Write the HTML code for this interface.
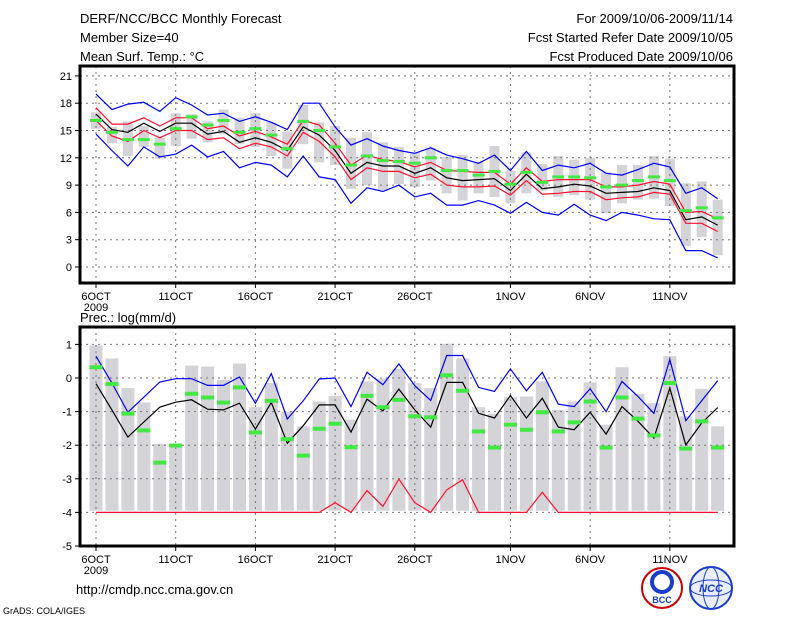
<!DOCTYPE html>
<html><head><meta charset="utf-8">
<style>
html,body{margin:0;padding:0;background:#fff;}
body{width:800px;height:618px;overflow:hidden;position:relative;font-family:"Liberation Sans",sans-serif;}
svg text{font-family:"Liberation Sans",sans-serif;}
</style></head>
<body>
<svg id="chart" width="800" height="618" xmlns="http://www.w3.org/2000/svg">
 <g id="hdr" font-size="13" fill="#000">
  <text x="80" y="23">DERF/NCC/BCC Monthly Forecast</text>
  <text x="80" y="42">Member Size=40</text>
  <text x="80" y="61">Mean Surf. Temp.: °C</text>
  <text x="733" y="23" text-anchor="end">For 2009/10/06-2009/11/14</text>
  <text x="733" y="42" text-anchor="end">Fcst Started Refer Date 2009/10/05</text>
  <text x="733" y="61" text-anchor="end">Fcst Produced Date 2009/10/06</text>
  <text x="80" y="322">Prec.: log(mm/d)</text>
  <text x="76" y="594">http://cmdp.ncc.cma.gov.cn</text>
  <text x="3" y="614" font-size="9">GrADS: COLA/IGES</text>
 </g>
 <g>
  <circle cx="662" cy="588" r="20" fill="#fff" stroke="#c00" stroke-width="2"/>
  <circle cx="662" cy="582" r="10" fill="none" stroke="#1a3cc8" stroke-width="4"/>
  <text x="662" y="603" font-size="9" text-anchor="middle" fill="#1a3cc8" font-weight="bold">BCC</text>
 </g>
 <g>
  <circle cx="711" cy="588" r="21" fill="#e8eeff" stroke="#1a3cc8" stroke-width="2"/>
  <ellipse cx="711" cy="588" rx="21" ry="8" fill="none" stroke="#1a3cc8" stroke-width="1"/>
  <ellipse cx="711" cy="588" rx="8" ry="21" fill="none" stroke="#1a3cc8" stroke-width="1"/>
  <text x="711" y="592" font-size="11" text-anchor="middle" fill="#1a3cc8" font-weight="bold" font-style="italic">NCC</text>
 </g>
</svg>
<script>
// ---- data (day index 0 = 6 Oct 2009 ... 39 = 14 Nov 2009) ----
const dateLabels = ["6OCT","11OCT","16OCT","21OCT","26OCT","1NOV","6NOV","11NOV"];
const dateLabelIdx = [0,5,10,15,20,26,31,36];
const tTicks = [0,3,6,9,12,15,18,21];
const pTicks = [1,0,-1,-2,-3,-4,-5];

const tMax = [19.0,17.3,17.9,18.1,17.1,18.6,17.8,16.7,16.9,16.0,16.5,15.9,15.1,18.0,18.0,15.4,13.4,14.1,13.3,12.8,12.5,13.1,12.3,11.9,11.4,12.3,10.6,12.7,10.6,11.2,10.9,11.4,10.3,10.1,10.7,11.4,11.0,8.1,8.7,7.5];
const tMin = [14.6,12.8,11.1,13.2,12.1,12.4,13.4,12.1,12.7,10.9,11.5,11.2,9.9,12.2,9.9,9.6,7.0,8.7,8.3,9.0,7.7,8.1,6.8,6.8,7.3,6.8,5.9,7.1,6.0,5.7,6.9,5.7,5.1,6.0,5.7,5.3,5.2,1.8,1.8,1.0];
const tMean = [16.8,15.1,14.8,15.8,14.9,15.8,15.8,14.6,14.9,13.7,14.2,13.7,12.8,15.4,14.5,12.8,10.3,11.5,11.1,11.1,10.3,10.9,9.8,9.5,9.6,9.7,8.4,10.2,8.6,8.8,9.1,8.9,8.1,8.2,8.3,8.7,8.4,5.2,5.5,4.6];
const tUp = [17.5,15.7,15.7,16.4,15.5,16.4,16.4,15.2,15.5,14.4,14.9,14.3,13.5,16.1,15.6,13.6,11.2,12.3,11.8,11.6,11.0,11.5,10.6,10.5,10.4,10.4,9.1,10.9,9.4,9.6,9.6,9.6,8.8,8.8,9.0,9.4,9.1,6.0,6.1,5.3];
const tLo = [16.1,14.4,13.8,15.0,14.2,15.0,15.0,14.0,14.2,13.0,13.6,13.2,12.2,14.8,13.8,12.1,9.6,10.9,10.5,10.5,9.8,10.2,9.0,8.8,8.8,8.9,7.9,9.5,8.0,8.1,8.3,8.3,7.4,7.6,7.7,8.2,8.0,4.8,4.8,3.9];
const tObs = [16.1,14.8,14.0,14.0,13.5,15.2,16.5,15.6,16.1,14.8,15.2,14.5,13.0,16.0,15.0,13.2,11.2,12.2,11.7,11.6,11.4,12.0,10.6,10.6,10.1,10.5,9.1,10.4,9.3,9.9,9.9,9.8,8.8,9.0,9.5,9.9,9.5,6.2,6.5,5.4];
const tBoxHi = [17.0,15.4,16.0,15.5,14.2,16.9,16.8,16.0,17.3,16.4,16.9,15.9,14.9,17.8,15.9,15.5,14.2,14.8,13.7,13.2,12.6,13.1,12.1,12.3,11.5,13.3,10.6,12.6,11.3,12.2,11.8,12.0,10.4,11.2,11.2,12.2,11.9,9.2,9.4,7.4];
const tBoxLo = [15.2,13.6,12.2,13.2,11.9,13.3,14.1,13.7,14.6,13.5,13.2,12.2,10.8,13.5,11.5,11.2,8.6,9.0,8.4,9.1,8.8,9.5,8.1,7.3,8.1,7.7,7.0,8.1,8.4,7.7,7.9,7.4,5.9,7.0,7.4,7.5,6.7,2.3,3.3,1.3];

const pBar = [0.97,0.58,-0.3,-0.73,-1.96,-2.0,0.37,0.34,-0.05,0.43,-0.87,-0.15,-1.0,-1.44,-0.7,-0.53,-1.24,-0.1,-0.02,0.27,-0.15,-0.3,1.02,0.58,-0.87,-1.06,-0.57,-0.55,-0.1,-0.95,-0.7,-0.13,-1.39,0.32,-0.47,-0.75,0.65,-1.14,-0.32,-1.44];
const pObs = [0.32,-0.18,-1.06,-1.56,-2.52,-2.01,-0.47,-0.58,-0.73,-0.28,-1.62,-0.68,-1.82,-2.31,-1.51,-1.36,-2.06,-0.53,-0.87,-0.65,-1.14,-1.17,0.08,-0.38,-1.59,-2.07,-1.39,-1.54,-1.02,-1.59,-1.32,-0.7,-2.07,-0.58,-1.21,-1.71,-0.15,-2.1,-1.29,-2.07];
const pMax = [0.65,-0.15,-1.02,-0.57,-0.12,-0.02,-0.02,-0.22,-0.22,0.03,-0.75,0.13,-1.22,-0.68,-0.03,0.0,-0.85,0.17,-0.2,0.42,-0.23,-0.67,0.67,0.67,-0.28,-0.4,0.27,-0.38,0.17,-0.78,-0.85,-0.32,-1.0,-0.1,-0.55,-1.05,0.55,-1.27,-0.68,-0.08];
const pMean = [-0.17,-0.95,-1.76,-1.31,-0.87,-0.72,-0.65,-0.93,-0.95,-0.75,-1.52,-0.73,-1.94,-1.42,-0.8,-0.8,-1.61,-0.63,-0.98,-0.33,-0.95,-1.46,-0.13,-0.13,-1.05,-1.19,-0.52,-1.19,-0.6,-1.46,-1.54,-1.02,-1.67,-0.85,-1.29,-1.79,-0.3,-1.99,-1.34,-0.88];
const pMin = [-4,-4,-4,-4,-4,-4,-4,-4,-4,-4,-4,-4,-4,-4,-4,-3.71,-4,-3.35,-3.82,-3.01,-3.71,-4,-3.33,-3.03,-4,-4,-4,-4,-3.4,-4,-4,-4,-4,-4,-4,-4,-4,-4,-4,-4];

// ---- axes ----
const NS="http://www.w3.org/2000/svg";
const svg=document.getElementById('chart');
const X0=80, X1=734;
const xDay = i => 96 + i*15.94;
const topP = {y0:66, y1:283, v:v=>267 - v*9.1};
const botP = {y0:327, y1:546, v:v=>378 - v*33.6};
function el(tag,attrs,parent){const e=document.createElementNS(NS,tag);for(const k in attrs)e.setAttribute(k,attrs[k]);(parent||svg).appendChild(e);return e;}
function pts(arr,fy){return arr.map((v,i)=>xDay(i).toFixed(1)+','+fy(v).toFixed(1)).join(' ');}

function panel(name){
  const g=el('g',{});
  
  
  return g;
}
function grid(P,ticks,g){
  ticks.forEach(t=>{
    const y=P.v(t);
    if(y>P.y0+1 && y<P.y1-1){
      const l=el('line',{x1:X0,x2:X1,y1:y,y2:y,stroke:'#777','stroke-dasharray':'2,4','stroke-width':1},g);
      
      
    }
    el('line',{x1:X0-5,x2:X0,y1:y,y2:y,stroke:'#000'},g);
    const tx=el('text',{x:X0-8,y:y+4,'font-size':11,'text-anchor':'end'},g);
    tx.textContent=t;
    
    
  });
  dateLabelIdx.forEach((d,k)=>{
    const x=xDay(d);
    const l=el('line',{x1:x,x2:x,y1:P.y0,y2:P.y1,stroke:'#777','stroke-dasharray':'2,4'},g);
    
    
    el('line',{x1:x,x2:x,y1:P.y1,y2:P.y1+5,stroke:'#000'},g);
    const tx=el('text',{x:x,y:P.y1+17,'font-size':11,'text-anchor':'middle'},g);
    tx.textContent=dateLabels[k];
    
    
  });
  const yr=el('text',{x:xDay(0),y:P.y1+28,'font-size':11,'text-anchor':'middle'},g);
  yr.textContent='2009';
  
  
}
function frame(P,g){
  const r=el('rect',{x:X0,y:P.y0,width:X1-X0,height:P.y1-P.y0,fill:'none',stroke:'#000','stroke-width':3},g);
  
  
}
function line(arr,P,color,name,g){
  const p=el('polyline',{points:pts(arr,P.v),fill:'none',stroke:color,'stroke-width':1.2},g);
  
  
}

// ---- temperature panel ----
const gT=panel('temperature-panel');
tBoxHi.forEach((h,i)=>{
  const y1=topP.v(h), y2=topP.v(tBoxLo[i]);
  const b=el('rect',{x:xDay(i)-5,y:y1,width:10,height:y2-y1,fill:'#d3d3d8'},gT);
  
  
});
grid(topP,tTicks,gT);
line(tMax,topP,'#0000ff','temp-max-line',gT);
line(tMin,topP,'#0000ff','temp-min-line',gT);
line(tUp,topP,'#ff1030','temp-upper-line',gT);
line(tLo,topP,'#ff1030','temp-lower-line',gT);
line(tMean,topP,'#000','temp-mean-line',gT);
tObs.forEach((v,i)=>{
  const m=el('rect',{x:xDay(i)-6,y:topP.v(v)-1.5,width:12,height:3,fill:'#44e844'},gT);
  
  
});
frame(topP,gT);

// ---- precipitation panel ----
const gP=panel('precip-panel');
pBar.forEach((v,i)=>{
  const y1=botP.v(v), y2=botP.v(-3.95);
  const b=el('rect',{x:xDay(i)-6.5,y:y1,width:13,height:y2-y1,fill:'#d3d3d8'},gP);
  
  
});
grid(botP,pTicks,gP);
line(pMin,botP,'#ff1030','precip-min-line',gP);
line(pMax,botP,'#0000ff','precip-max-line',gP);
line(pMean,botP,'#000','precip-mean-line',gP);
pObs.forEach((v,i)=>{
  const m=el('rect',{x:xDay(i)-6.5,y:botP.v(v)-2,width:13,height:4,fill:'#44e844'},gP);
  
  
});
frame(botP,gP);
</script>
</body></html>
